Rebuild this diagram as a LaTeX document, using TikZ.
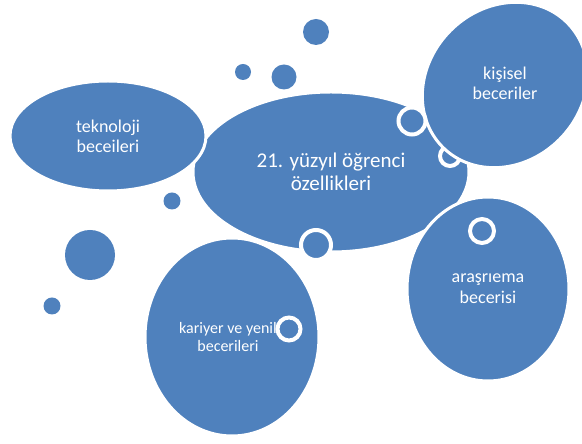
\documentclass[tikz,border=0pt]{standalone}
\usepackage{fontspec}
\setmainfont{Carlito}
\usetikzlibrary{shapes.geometric}
\definecolor{bubbleblue}{RGB}{79,129,189}
\tikzset{
  bubble/.style={ellipse,fill=bubbleblue,draw=white,line width=3pt,inner sep=0pt,text=white,align=center},
  bubblepath/.style={fill=bubbleblue,draw=white,line width=3pt},
  label/.style={text=white,align=center,inner sep=0pt},
  dot/.style={circle,fill=bubbleblue,inner sep=0pt},
  ring/.style={circle,fill=bubbleblue,draw=white,line width=4pt,inner sep=0pt}
}
\begin{document}
\begin{tikzpicture}[x=1pt,y=1pt]
\useasboundingbox (0,0) rectangle (582,444);
\node[bubble,minimum width=276pt,minimum height=160pt,font=\fontsize{21}{23.3}\selectfont] (ozellik) at (331,272) {21. yüzyıl öğrenci\\özellikleri};
\node[ring,minimum size=20pt] (ringb) at (450,288) {}; % half hidden under kisisel
% edit here for the outer bubbles
\node[bubble,minimum width=196pt,minimum height=110pt,font=\fontsize{18}{20}\selectfont] (teknoloji) at (108,308) {teknoloji\\beceileri};
\path[bubblepath] (505,359) ellipse [x radius=88, y radius=77, rotate=45]; % tilted bubble
\node[label,font=\fontsize{18}{20}\selectfont] (kisisel) at (505,361) {kişisel\\beceriler};
\node[bubble,minimum width=162pt,minimum height=184pt,font=\fontsize{18}{21}\selectfont] (arastirma) at (488,155) {araşrıema\\becerisi};
\path[bubblepath] (232,107) ellipse [x radius=87, y radius=99];
\node[label,font=\fontsize{16}{17.7}\selectfont] (kariyer) at (228,107) {kariyer ve yenil\\becerileri};
% edit here for the rings
\foreach \n/\px/\py/\d in {ringa/412/323/27, ringc/316/199/30, ringd/289/115/23, ringe/482/213/24}
\node[ring,minimum size=\d pt] (\n) at (\px,\py) {};
% edit here for the dots
\foreach \px/\py/\d [count=\i] in {243/372/16, 284/367/25, 316/412/26, 172/243/17, 90/189/50, 52/138/17}
\node[dot,minimum size=\d pt] (dot\i) at (\px,\py) {};
\end{tikzpicture}
\end{document}
